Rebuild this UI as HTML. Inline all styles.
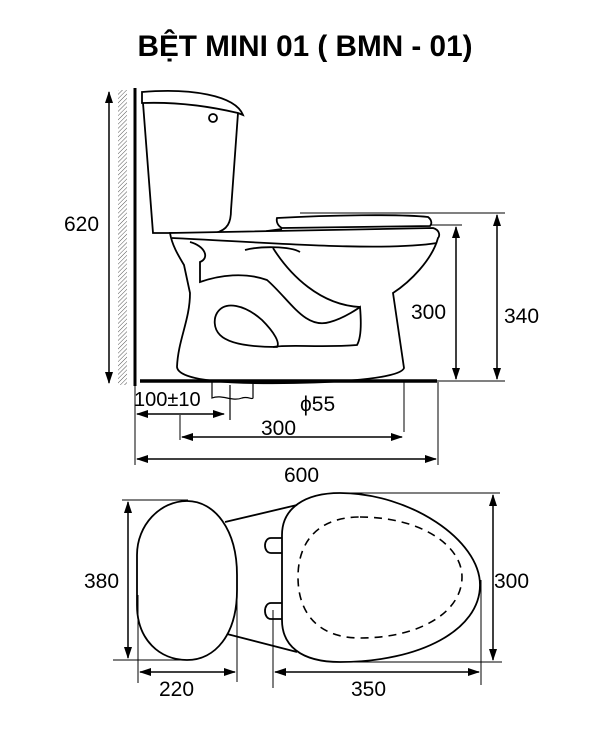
<!DOCTYPE html>
<html><head><meta charset="utf-8"><style>
html,body{margin:0;padding:0;background:#fff;}
svg{display:block;}
text{font-family:"Liberation Sans",sans-serif;fill:#000;}
</style></head><body>
<svg width="616" height="729" viewBox="0 0 616 729" xmlns="http://www.w3.org/2000/svg">
<defs>
<marker id="a" markerWidth="12" markerHeight="8" refX="11" refY="4" orient="auto-start-reverse" markerUnits="userSpaceOnUse"><path d="M0,0 L12,4 L0,8 Z" fill="#000"/></marker>
<pattern id="h" width="3" height="3" patternUnits="userSpaceOnUse" patternTransform="rotate(45)"><line x1="0" y1="0" x2="0" y2="3" stroke="#555" stroke-width="1"/></pattern>
</defs>
<text x="305" y="56" text-anchor="middle" font-size="30" font-weight="bold" textLength="335" lengthAdjust="spacingAndGlyphs">BỆT MINI 01 ( BMN - 01)</text>

<g fill="none" stroke="#000" stroke-width="1.8">
<rect x="118" y="90" width="9" height="295" fill="url(#h)" stroke="none"/>
<line x1="135" y1="88" x2="135" y2="386" stroke-width="3"/>
<line x1="109" y1="92" x2="109" y2="383" stroke-width="1.5" marker-start="url(#a)" marker-end="url(#a)"/>
<path d="M142,92 C190,88 235,95 243,115 L238,113 C200,104 170,102 142,103 Z"/>
<path d="M143,103 L153,233 L215,233 C228,230 231,222 231,210 L238,113"/>
<circle cx="213" cy="118" r="4"/>
<path d="M277,218 C330,215 400,214 428,217 C432,220 432,224 430,226 L282,228 C278,226 276,222 277,218 Z"/>
<path d="M267,234 L267,231 L282,229"/>
<path d="M170,233 L433,228 C440,230 440,236 438,238 C432,260 410,282 393,293 L404,368 C400,380 320,384 250,383 C200,382 178,376 177,367 C178,340 190,320 190,293 L184,265 C178,255 172,245 170,233 Z" fill="#fff"/>
<path d="M172,238 C260,242 380,252 437,243"/>
<path d="M273,248 C290,275 320,305 360,307"/>
<path d="M190,242 C205,246 210,258 200,262 L200,282 C220,275 245,272 267,280 C290,300 305,330 330,322 C345,318 360,307 360,307 C362,330 360,340 357,345 C320,348 290,344 273,347"/>
<path d="M245,250 C260,246 290,246 300,252"/>
<path d="M217,313 C225,300 245,305 262,320 C275,333 280,343 277,347 C255,347 230,345 220,335 C213,328 214,318 217,313 Z"/>
<line x1="140" y1="381" x2="437" y2="381" stroke-width="3.5"/>
<line x1="437" y1="381" x2="460" y2="381" stroke-width="1"/>
<path d="M212,381 L212,398 C222,394 232,402 242,398 C248,396 252,400 253,398 L253,381" stroke-width="1.2"/>
<line x1="230" y1="385" x2="230" y2="420" stroke-width="1.2"/>
<line x1="300" y1="213" x2="505" y2="213" stroke-width="1"/>
<line x1="430" y1="225" x2="462" y2="225" stroke-width="1"/>
<line x1="437" y1="381" x2="505" y2="381" stroke-width="1"/>
<line x1="456" y1="227" x2="456" y2="379" stroke-width="1.5" marker-start="url(#a)" marker-end="url(#a)"/>
<line x1="497" y1="215" x2="497" y2="379" stroke-width="1.5" marker-start="url(#a)" marker-end="url(#a)"/>
<line x1="135" y1="386" x2="135" y2="465" stroke-width="1"/>
<line x1="438" y1="382" x2="438" y2="465" stroke-width="1"/>
<line x1="180" y1="415" x2="180" y2="440" stroke-width="1"/>
<line x1="404" y1="380" x2="404" y2="432" stroke-width="1"/>
<line x1="137" y1="414" x2="224" y2="414" stroke-width="1.5" marker-start="url(#a)" marker-end="url(#a)"/>
<line x1="182" y1="437" x2="402" y2="437" stroke-width="1.5" marker-start="url(#a)" marker-end="url(#a)"/>
<line x1="137" y1="459" x2="436" y2="459" stroke-width="1.5" marker-start="url(#a)" marker-end="url(#a)"/>

<path d="M187,501 C215,501 237,530 237,575 L237,590 C237,635 215,660 187,660 C160,660 137,640 137,605 L137,555 C137,525 160,501 187,501 Z"/>
<line x1="225" y1="522" x2="297" y2="505"/>
<line x1="227" y1="634" x2="297" y2="652"/>
<path d="M340,493 C410,493 480,540 480,585 C480,630 420,662 340,662 C300,662 282,645 282,620 L282,535 C282,508 305,493 340,493 Z"/>
<path d="M282,538 L271,538 C263,538 263,553 271,553 L282,553"/>
<path d="M282,603 L271,603 C263,603 263,619 271,619 L282,619"/>
<path d="M360,517 C420,517 462,545 462,577 C462,612 420,638 360,638 C320,638 298,615 298,577 C298,540 320,517 360,517 Z" stroke-dasharray="8,6" stroke-width="1.6"/>
<line x1="122" y1="500" x2="188" y2="500" stroke-width="1"/>
<line x1="113" y1="660" x2="188" y2="660" stroke-width="1"/>
<line x1="128" y1="502" x2="128" y2="658" stroke-width="1.5" marker-start="url(#a)" marker-end="url(#a)"/>
<line x1="138" y1="595" x2="138" y2="683" stroke-width="1"/>
<line x1="237" y1="600" x2="237" y2="682" stroke-width="1"/>
<line x1="140" y1="672" x2="235" y2="672" stroke-width="1.5" marker-start="url(#a)" marker-end="url(#a)"/>
<line x1="340" y1="493" x2="500" y2="493" stroke-width="1"/>
<line x1="340" y1="662" x2="502" y2="662" stroke-width="1"/>
<line x1="493" y1="495" x2="493" y2="660" stroke-width="1.5" marker-start="url(#a)" marker-end="url(#a)"/>
<line x1="273" y1="610" x2="273" y2="688" stroke-width="1"/>
<line x1="481" y1="580" x2="481" y2="685" stroke-width="1"/>
<line x1="275" y1="672" x2="479" y2="672" stroke-width="1.5" marker-start="url(#a)" marker-end="url(#a)"/>
</g>

<g font-size="21">
<text x="64" y="231">620</text>
<text x="411" y="319">300</text>
<text x="504" y="323">340</text>
<text x="134" y="406" font-size="20">100±10</text>
<text x="300" y="411">ϕ55</text>
<text x="261" y="435">300</text>
<text x="284" y="482">600</text>
<text x="84" y="588">380</text>
<text x="159" y="696">220</text>
<text x="494" y="588">300</text>
<text x="351" y="696">350</text>
</g>
</svg>
</body></html>
